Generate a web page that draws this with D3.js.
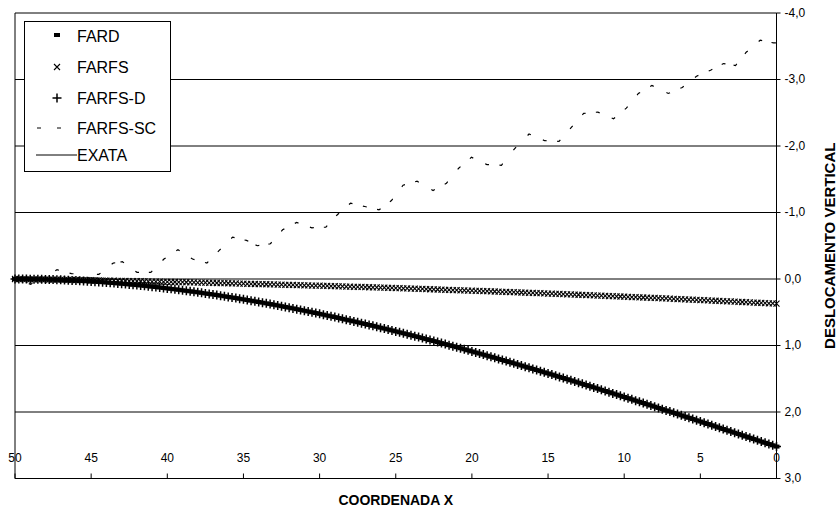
<!DOCTYPE html>
<html>
<head>
<meta charset="utf-8">
<script src="https://cdn.jsdelivr.net/npm/d3@7"></script>
<style>
  html, body { margin: 0; padding: 0; background: #fff; }
  svg { display: block; font-family: "Liberation Sans", Arial, sans-serif; }
</style>
</head>
<body>
<div id="app"></div>
<script>
// nodes along the beam, read left to right (50 -> 0)
const coordX = [
  50,49.75,49.5,49.25,49,48.75,48.5,48.25,48,47.75,47.5,47.25,47,46.75,46.5,46.25,46,45.75,45.5,45.25,
  45,44.75,44.5,44.25,44,43.75,43.5,43.25,43,42.75,42.5,42.25,42,41.75,41.5,41.25,41,40.75,40.5,40.25,
  40,39.75,39.5,39.25,39,38.75,38.5,38.25,38,37.75,37.5,37.25,37,36.75,36.5,36.25,36,35.75,35.5,35.25,
  35,34.75,34.5,34.25,34,33.75,33.5,33.25,33,32.75,32.5,32.25,32,31.75,31.5,31.25,31,30.75,30.5,30.25,
  30,29.75,29.5,29.25,29,28.75,28.5,28.25,28,27.75,27.5,27.25,27,26.75,26.5,26.25,26,25.75,25.5,25.25,
  25,24.75,24.5,24.25,24,23.75,23.5,23.25,23,22.75,22.5,22.25,22,21.75,21.5,21.25,21,20.75,20.5,20.25,
  20,19.75,19.5,19.25,19,18.75,18.5,18.25,18,17.75,17.5,17.25,17,16.75,16.5,16.25,16,15.75,15.5,15.25,
  15,14.75,14.5,14.25,14,13.75,13.5,13.25,13,12.75,12.5,12.25,12,11.75,11.5,11.25,11,10.75,10.5,10.25,
  10,9.75,9.5,9.25,9,8.75,8.5,8.25,8,7.75,7.5,7.25,7,6.75,6.5,6.25,6,5.75,5.5,5.25,
  5,4.75,4.5,4.25,4,3.75,3.5,3.25,3,2.75,2.5,2.25,2,1.75,1.5,1.25,1,0.75,0.5,0.25,
  0
];

const exata = [
  0,0,0,0.001,0.002,0.002,0.003,0.005,0.006,0.008,0.009,0.011,0.013,0.016,0.018,0.021,0.024,0.027,0.030,0.033,
  0.037,0.040,0.044,0.048,0.052,0.057,0.061,0.066,0.071,0.076,0.081,0.086,0.092,0.097,0.103,0.109,0.115,0.121,0.128,0.134,
  0.141,0.148,0.155,0.162,0.170,0.177,0.185,0.192,0.200,0.208,0.217,0.225,0.233,0.242,0.251,0.260,0.269,0.278,0.287,0.297,
  0.306,0.316,0.326,0.336,0.346,0.356,0.366,0.377,0.387,0.398,0.409,0.420,0.431,0.442,0.454,0.465,0.477,0.488,0.500,0.512,
  0.524,0.536,0.549,0.561,0.573,0.586,0.599,0.612,0.624,0.638,0.651,0.664,0.677,0.691,0.704,0.718,0.732,0.745,0.759,0.773,
  0.788,0.802,0.816,0.830,0.845,0.860,0.874,0.889,0.904,0.919,0.934,0.949,0.964,0.979,0.995,1.010,1.026,1.041,1.057,1.073,
  1.089,1.105,1.121,1.137,1.153,1.169,1.185,1.202,1.218,1.234,1.251,1.268,1.284,1.301,1.318,1.335,1.352,1.369,1.386,1.403,
  1.420,1.437,1.455,1.472,1.489,1.507,1.524,1.542,1.559,1.577,1.595,1.612,1.630,1.648,1.666,1.684,1.702,1.720,1.738,1.756,
  1.774,1.792,1.810,1.829,1.847,1.865,1.884,1.902,1.920,1.939,1.957,1.976,1.994,2.013,2.031,2.050,2.069,2.087,2.106,2.125,
  2.143,2.162,2.181,2.199,2.218,2.237,2.256,2.275,2.293,2.312,2.331,2.350,2.369,2.388,2.407,2.426,2.444,2.463,2.482,2.501,
  2.520
];

const farfs = [
  0,0.001,0.002,0.003,0.004,0.004,0.005,0.006,0.007,0.008,0.009,0.010,0.011,0.012,0.013,0.014,0.015,0.016,0.017,0.018,
  0.019,0.021,0.022,0.023,0.024,0.025,0.026,0.027,0.028,0.030,0.031,0.032,0.033,0.034,0.035,0.037,0.038,0.039,0.040,0.042,
  0.043,0.044,0.045,0.047,0.048,0.049,0.051,0.052,0.053,0.055,0.056,0.057,0.059,0.060,0.062,0.063,0.064,0.066,0.067,0.069,
  0.070,0.072,0.073,0.075,0.076,0.078,0.079,0.081,0.082,0.084,0.085,0.087,0.088,0.090,0.092,0.093,0.095,0.096,0.098,0.100,
  0.101,0.103,0.105,0.106,0.108,0.110,0.112,0.113,0.115,0.117,0.118,0.120,0.122,0.124,0.126,0.127,0.129,0.131,0.133,0.135,
  0.137,0.138,0.140,0.142,0.144,0.146,0.148,0.150,0.152,0.154,0.156,0.158,0.160,0.162,0.164,0.166,0.168,0.170,0.172,0.174,
  0.176,0.178,0.180,0.182,0.184,0.186,0.188,0.190,0.192,0.195,0.197,0.199,0.201,0.203,0.205,0.208,0.210,0.212,0.214,0.216,
  0.219,0.221,0.223,0.225,0.228,0.230,0.232,0.235,0.237,0.239,0.242,0.244,0.246,0.249,0.251,0.253,0.256,0.258,0.261,0.263,
  0.266,0.268,0.271,0.273,0.275,0.278,0.280,0.283,0.285,0.288,0.291,0.293,0.296,0.298,0.301,0.303,0.306,0.309,0.311,0.314,
  0.316,0.319,0.322,0.324,0.327,0.330,0.332,0.335,0.338,0.341,0.343,0.346,0.349,0.352,0.354,0.357,0.360,0.363,0.366,0.368,
  0.371
];

// FARD and FARFS-D sit on the exact curve in the figure
const fard = exata;
const farfsD = exata;

// FARFS-SC (oscillating)
const farfsScX = [
  50,48.97,47.24,46.29,44.49,43.55,42.95,41.99,41.08,40.22,39.30,38.34,37.40,36.59,35.71,34.80,34.09,33.23,
  32.43,31.51,30.51,29.59,28.82,27.97,27.03,26.10,25.28,24.52,23.60,22.55,21.67,20.85,20.03,19.01,18.06,
  17.19,16.25,15.22,14.28,13.47,12.66,11.73,10.70,9.86,9.07,8.18,7.11,6.19,5.25,4.33,3.48,2.69,1.99,1.07,0.20,0
];
const farfsSc = [
  0,0.08,-0.14,-0.08,-0.07,-0.24,-0.26,-0.10,-0.10,-0.30,-0.44,-0.30,-0.24,-0.43,-0.63,-0.58,-0.50,-0.53,
  -0.74,-0.85,-0.77,-0.78,-0.97,-1.14,-1.09,-1.04,-1.18,-1.41,-1.47,-1.33,-1.44,-1.67,-1.83,-1.72,-1.71,
  -1.96,-2.18,-2.08,-2.07,-2.28,-2.49,-2.51,-2.41,-2.57,-2.79,-2.91,-2.79,-2.88,-3.05,-3.14,-3.24,-3.21,-3.41,-3.59,-3.55,-3.55
];

const xTicks = [50, 45, 40, 35, 30, 25, 20, 15, 10, 5, 0];
const yTicks = [-4, -3, -2, -1, 0, 1, 2, 3];
const legendNames = ['FARD', 'FARFS', 'FARFS-D', 'FARFS-SC', 'EXATA'];

const conf = { width: 839, height: 518, left: 15, right: 776.5, top: 13, bottom: 478.5 };
const font = '"Liberation Sans", Arial, sans-serif';

const svg = d3.select('#app').append('svg')
  .attr('width', conf.width)
  .attr('height', conf.height);

const x = d3.scaleLinear().domain([50, 0]).range([conf.left, conf.right]);
const y = d3.scaleLinear().domain([-4, 3]).range([conf.top, conf.bottom]);

// horizontal gridlines
svg.append('g')
  .selectAll('line')
  .data(yTicks.slice(0, -1))
  .enter()
  .append('line')
  .attr('x1', conf.left)
  .attr('x2', conf.right)
  .attr('y1', d => y(d))
  .attr('y2', d => y(d))
  .attr('stroke', '#000');

// left edge of the plot area
svg.append('line')
  .attr('x1', conf.left).attr('x2', conf.left)
  .attr('y1', conf.top).attr('y2', conf.bottom)
  .attr('stroke', '#000');

const symbols = {
  dash: g => g.append('rect').attr('x', -3).attr('y', -2).attr('width', 6).attr('height', 4).attr('fill', '#000'),
  cross: g => g.append('path').attr('d', 'M-3,-3L3,3M-3,3L3,-3').attr('stroke', '#000').attr('stroke-width', 1.1).attr('fill', 'none'),
  plus: g => g.append('path').attr('d', 'M-4.5,0H4.5M0,-4.5V4.5').attr('stroke', '#000').attr('stroke-width', 1.5).attr('fill', 'none')
};

const plot = svg.append('g');

// FARFS-SC: dashed line, one short dash centred on each read point
const dashLen = 4;
const scPts = farfsScX.map((cx, i) => [x(cx), y(farfsSc[i])]);
const scDash = [];
scPts.forEach((p, i) => {
  if (i === 0) return;
  const q = scPts[i - 1];
  const len = Math.hypot(p[0] - q[0], p[1] - q[1]);
  scDash.push(i === 1 ? dashLen / 2 : dashLen, Math.max(len - dashLen, 0.1));
});
plot.append('path')
  .attr('d', d3.line()(scPts))
  .attr('fill', 'none')
  .attr('stroke', '#000')
  .attr('stroke-width', 1.2)
  .attr('stroke-dasharray', scDash.join(' '));

const markers = (values, symbol) => {
  plot.append('g')
    .selectAll('g')
    .data(coordX)
    .enter()
    .append('g')
    .attr('transform', (cx, i) => `translate(${x(cx)},${y(values[i])})`)
    .each(function () { symbols[symbol](d3.select(this)); });
};

markers(farfs, 'cross');

plot.append('path')
  .attr('d', d3.line().x(cx => x(cx)).y((cx, i) => y(exata[i]))(coordX))
  .attr('fill', 'none')
  .attr('stroke', '#000');

markers(farfsD, 'plus');
markers(fard, 'dash');

// right value axis
svg.append('g')
  .attr('transform', `translate(${conf.right},0)`)
  .call(d3.axisRight(y)
    .tickValues(yTicks)
    .tickSize(4)
    .tickSizeOuter(0)
    .tickPadding(4)
    .offset(0)
    .tickFormat(d => d.toFixed(1).replace('.', ',')))
  .attr('font-family', font)
  .attr('font-size', 12)
  .call(g => g.selectAll('text').attr('fill', '#000'));

// category axis at the bottom, labels sit above it
svg.append('g')
  .attr('transform', `translate(0,${conf.bottom})`)
  .call(d3.axisTop(x)
    .tickValues(xTicks)
    .tickSize(5)
    .tickSizeOuter(0)
    .tickPadding(12)
    .offset(0)
    .tickFormat(d => d))
  .attr('font-family', font)
  .attr('font-size', 12)
  .call(g => g.selectAll('text').attr('fill', '#000'));

svg.append('text')
  .attr('x', (conf.left + conf.right) / 2)
  .attr('y', 505)
  .attr('text-anchor', 'middle')
  .attr('font-weight', 'bold')
  .attr('font-size', 14)
  .text('COORDENADA X');

svg.append('text')
  .attr('transform', `translate(830,${(conf.top + conf.bottom) / 2}) rotate(-90)`)
  .attr('text-anchor', 'middle')
  .attr('dy', '0.35em')
  .attr('font-weight', 'bold')
  .attr('font-size', 15)
  .text('DESLOCAMENTO VERTICAL');

// legend
const legend = svg.append('g');
legend.append('rect')
  .attr('x', 24.5).attr('y', 21.5)
  .attr('width', 146).attr('height', 150)
  .attr('fill', '#fff').attr('stroke', '#000');

const rowY = [36, 67, 98, 128, 155];
const items = legend.selectAll('g.item')
  .data(legendNames)
  .enter()
  .append('g')
  .attr('class', 'item')
  .attr('transform', (d, i) => `translate(0,${rowY[i]})`);

items.append('text')
  .attr('x', 77)
  .attr('dy', '0.35em')
  .attr('font-size', 16)
  .text(d => d);

items.each(function (d) {
  const g = d3.select(this);
  if (d === 'FARD') symbols.dash(g.append('g').attr('transform', 'translate(57,-1)'));
  if (d === 'FARFS') symbols.cross(g.append('g').attr('transform', 'translate(57,0)'));
  if (d === 'FARFS-D') symbols.plus(g.append('g').attr('transform', 'translate(57,0)'));
  if (d === 'FARFS-SC') {
    g.append('line').attr('x1', 37).attr('x2', 61).attr('stroke', '#000').attr('stroke-dasharray', '4 16 4');
  }
  if (d === 'EXATA') {
    g.append('line').attr('x1', 36).attr('x2', 77).attr('stroke', '#000');
  }
});
</script>
</body>
</html>
